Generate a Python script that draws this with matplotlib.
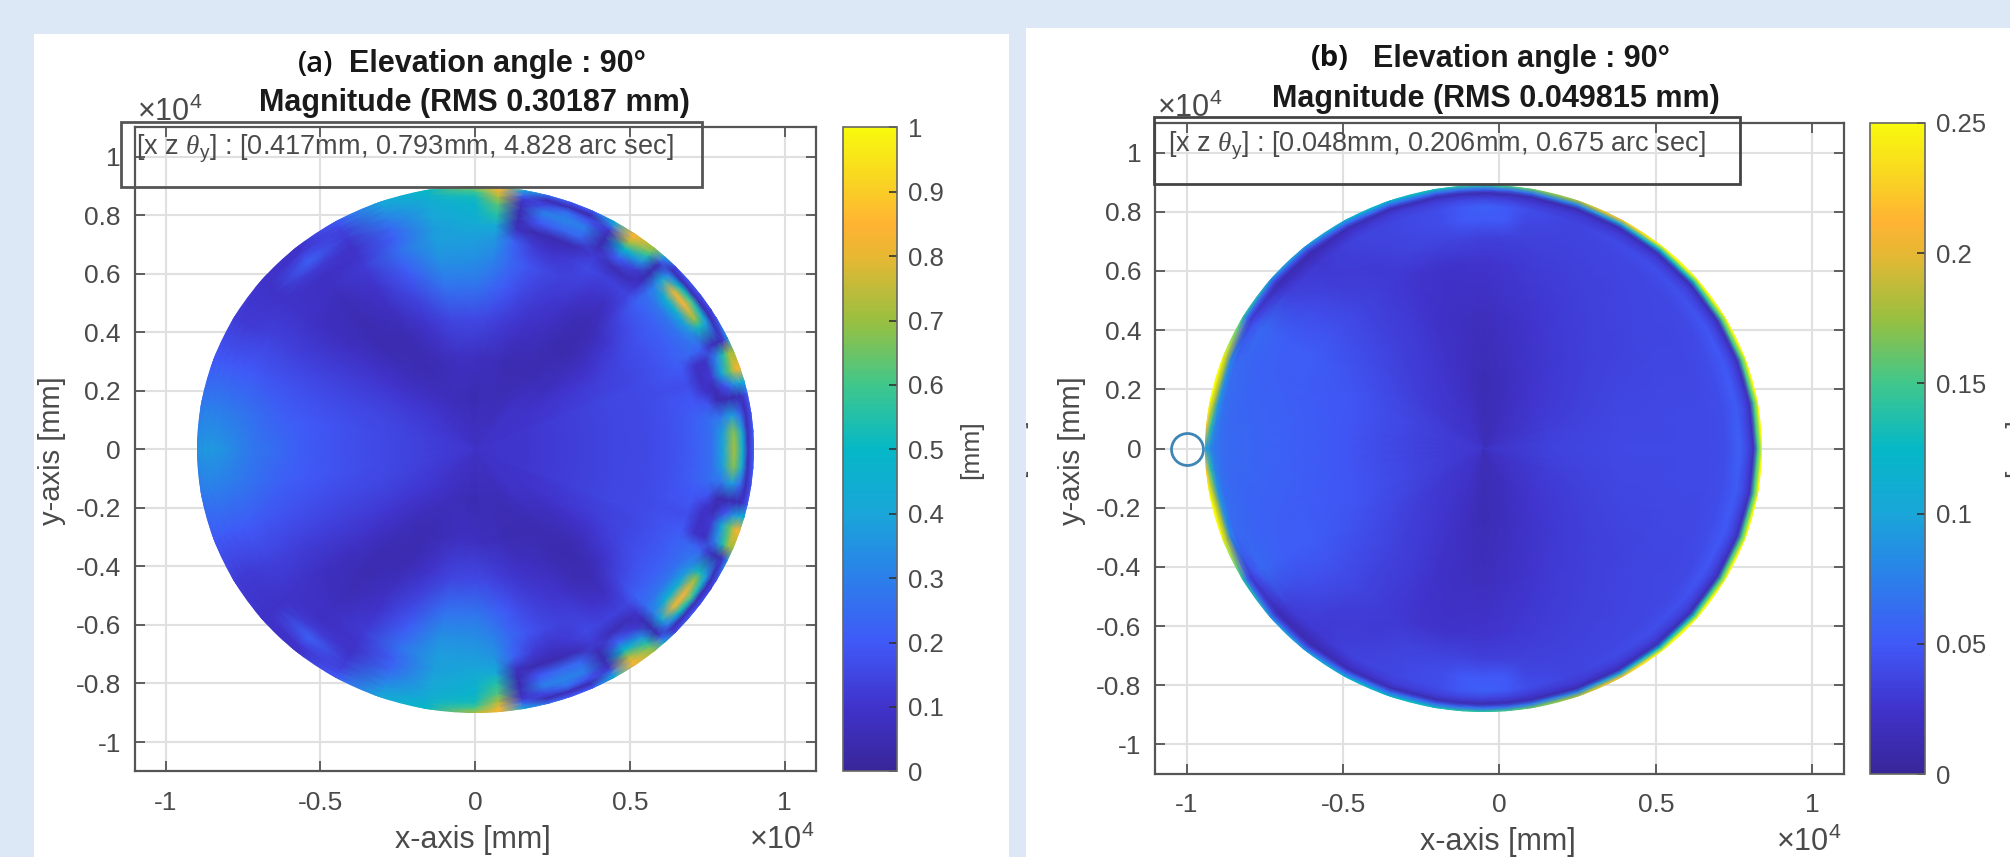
#复现两幅MATLAB面形云图 (a)(b)
import numpy as np
import matplotlib
matplotlib.use('Agg')
import matplotlib.pyplot as plt
from matplotlib.colors import LinearSegmentedColormap
from matplotlib.patches import Rectangle, Circle

plt.rcParams['font.family'] = ['Liberation Sans', 'DejaVu Sans']
plt.rcParams['mathtext.fontset'] = 'custom'
plt.rcParams['mathtext.rm'] = 'Liberation Sans'
plt.rcParams['mathtext.it'] = 'Liberation Serif:italic'
plt.rcParams['mathtext.default'] = 'rm'

W, H = 2010, 857
BG = '#dce8f5'
TXT = '#4a4a4a'
FRAME = '#555555'

# parula样的颜色,从参考图的色条上读的
cmap_pos = [0, .1, .2, .3, .4, .5, .6, .7, .8, .85, .9, 1]
cmap_rgb = [(.22, .15, .60), (.25, .20, .80), (.25, .35, .97), (.17, .50, .92),
            (.10, .65, .85), (.02, .72, .78), (.25, .78, .55), (.60, .75, .25),
            (.90, .72, .20), (1.0, .70, .20), (.98, .80, .15), (.97, .98, .05)]

xticks = [-1, -0.5, 0, 0.5, 1]
xticklabels = ['-1', '-0.5', '0', '0.5', '1']
yticks = [-1, -.8, -.6, -.4, -.2, 0, .2, .4, .6, .8, 1]
yticklabels = ['-1', '-0.8', '-0.6', '-0.4', '-0.2', '0', '0.2', '0.4', '0.6', '0.8', '1']

cb_ticks_a = [0, .1, .2, .3, .4, .5, .6, .7, .8, .9, 1]
cb_labels_a = ['0', '0.1', '0.2', '0.3', '0.4', '0.5', '0.6', '0.7', '0.8', '0.9', '1']
cb_ticks_b = [0, .05, .1, .15, .2, .25]
cb_labels_b = ['0', '0.05', '0.1', '0.15', '0.2', '0.25']

# (a) 每行一个角度(上半圆,下半圆镜像),每列一个半径比例
angles_a = [0, 4, 8, 12, 15, 18, 22, 25, 30, 32, 36, 40, 44, 47, 50, 55, 60, 65, 70, 75, 80, 85, 90,
            100, 110, 120, 130, 140, 150, 160, 170, 180]
radii_a = [0, .2, .35, .5, .62, .72, .8, .85, .89, .93, .96, .98, 1]
mag_a = [
    [.09, .11, .13, .15, .16, .18, .22, .26, .40, .72, .45, .08, .22],
    [.09, .11, .13, .15, .16, .18, .22, .26, .38, .68, .42, .07, .20],
    [.09, .11, .13, .15, .16, .18, .22, .25, .28, .38, .25, .06, .18],
    [.09, .11, .13, .15, .16, .18, .20, .18, .05, .05, .05, .08, .20],
    [.09, .11, .13, .15, .16, .18, .19, .10, .06, .18, .35, .40, .45],
    [.09, .11, .13, .15, .16, .17, .17, .08, .12, .42, .65, .80, .85],
    [.09, .11, .13, .15, .16, .18, .20, .09, .08, .30, .55, .70, .70],
    [.09, .10, .12, .14, .15, .18, .22, .24, .22, .08, .05, .10, .35],
    [.09, .10, .11, .13, .15, .18, .22, .26, .34, .52, .36, .06, .18],
    [.09, .10, .11, .12, .15, .18, .22, .27, .38, .70, .45, .06, .15],
    [.09, .10, .10, .10, .14, .18, .22, .28, .45, .85, .58, .07, .18],
    [.09, .09, .08, .08, .11, .17, .22, .28, .45, .82, .50, .06, .20],
    [.09, .09, .07, .06, .08, .15, .22, .25, .30, .42, .28, .07, .15],
    [.09, .09, .07, .05, .06, .11, .15, .10, .05, .05, .06, .25, .40],
    [.09, .09, .06, .04, .05, .08, .14, .06, .12, .35, .55, .65, .70],
    [.09, .08, .05, .05, .06, .10, .14, .06, .22, .50, .72, .82, .85],
    [.09, .07, .05, .07, .09, .13, .16, .12, .05, .05, .10, .30, .45],
    [.09, .06, .05, .08, .11, .14, .12, .06, .24, .30, .18, .05, .20],
    [.09, .06, .05, .09, .13, .16, .09, .05, .24, .32, .25, .06, .20],
    [.09, .06, .06, .11, .16, .19, .12, .05, .20, .30, .15, .05, .25],
    [.09, .06, .07, .13, .20, .24, .22, .07, .05, .06, .10, .25, .40],
    [.09, .06, .07, .15, .24, .31, .36, .42, .55, .62, .72, .80, .85],
    [.09, .05, .08, .16, .27, .34, .38, .42, .45, .48, .52, .60, .72],
    [.09, .06, .08, .15, .26, .34, .38, .38, .40, .42, .44, .47, .50],
    [.09, .07, .06, .10, .15, .21, .26, .22, .24, .30, .35, .38, .40],
    [.09, .08, .05, .05, .08, .10, .12, .10, .09, .12, .14, .17, .20],
    [.09, .09, .07, .05, .05, .06, .08, .08, .12, .22, .16, .10, .09],
    [.09, .11, .10, .09, .08, .08, .09, .09, .09, .09, .09, .09, .10],
    [.10, .12, .13, .13, .13, .13, .14, .14, .13, .12, .12, .12, .13],
    [.10, .13, .15, .16, .17, .18, .19, .20, .20, .20, .20, .20, .20],
    [.10, .14, .16, .18, .20, .22, .25, .27, .28, .29, .29, .29, .28],
    [.10, .14, .16, .18, .21, .25, .28, .31, .34, .36, .37, .36, .35],
]

# (b) 同样的表,幅值小很多,边缘一圈亮
angles_b = [0, 10, 20, 30, 40, 50, 60, 70, 80, 85, 90, 95, 100, 110, 120, 130, 140,
            150, 160, 170, 175, 180]
radii_b = [0, .25, .5, .7, .8, .87, .92, .95, .97, .985, 1]
mag_b = [
    [.022, .036, .040, .040, .040, .042, .055, .038, .018, .15, .25],
    [.022, .035, .039, .040, .040, .042, .052, .038, .018, .15, .25],
    [.020, .032, .038, .039, .039, .042, .050, .036, .018, .15, .25],
    [.018, .030, .036, .038, .038, .040, .048, .034, .016, .15, .25],
    [.018, .028, .034, .037, .038, .039, .044, .034, .015, .13, .25],
    [.017, .026, .032, .036, .037, .038, .042, .032, .015, .12, .25],
    [.016, .022, .030, .034, .036, .037, .040, .030, .014, .10, .22],
    [.015, .019, .026, .032, .035, .036, .036, .030, .012, .08, .18],
    [.015, .016, .022, .029, .034, .038, .042, .030, .012, .07, .16],
    [.015, .015, .020, .027, .034, .050, .050, .034, .012, .06, .15],
    [.016, .014, .018, .025, .034, .050, .055, .036, .012, .06, .14],
    [.016, .015, .019, .025, .036, .050, .050, .036, .013, .06, .14],
    [.018, .018, .020, .024, .036, .042, .042, .034, .014, .06, .13],
    [.020, .022, .024, .026, .036, .038, .038, .032, .014, .06, .12],
    [.022, .026, .031, .031, .030, .034, .036, .026, .014, .055, .11],
    [.022, .028, .035, .037, .032, .030, .028, .018, .012, .04, .09],
    [.022, .030, .040, .044, .042, .038, .034, .022, .014, .04, .09],
    [.024, .034, .044, .052, .052, .056, .060, .045, .030, .06, .14],
    [.025, .036, .048, .052, .054, .056, .060, .060, .080, .18, .25],
    [.025, .036, .048, .054, .056, .058, .060, .065, .090, .18, .25],
    [.025, .036, .048, .054, .057, .059, .060, .065, .080, .14, .22],
    [.025, .036, .048, .054, .057, .059, .060, .065, .070, .08, .10],
]

disc_a = (0.0, 0.0, 0.9)    # 圆心x, 圆心y, 半径 (x1e4 mm)
disc_b = (-0.05, 0.0, 0.89)
circle_x = [-1.0]
circle_y = [0.0]


def ax_px(fig, l, t, r, b):
    return fig.add_axes([l / W, 1 - b / H, (r - l) / W, (b - t) / H])


def fig_text(fig, x, y, s, **kw):
    kw.setdefault('ha', 'center')
    kw.setdefault('va', 'center')
    return fig.text(x / W, 1 - y / H, s, **kw)


def fig_rect(fig, l, t, r, b, **kw):
    rect = Rectangle((l / W, 1 - b / H), (r - l) / W, (b - t) / H,
                     transform=fig.transFigure, **kw)
    fig.add_artist(rect)
    return rect


def draw_disc(ax, angles, radii, table, disc, vmax):
    # 下半圆用上半圆镜像; 外面多一圈网格再用真圆裁剪,边缘才不是多边形
    ang = np.array(angles, dtype=float)
    tab = np.array(table)
    ang = np.r_[ang, 360 - ang[-2::-1]]
    tab = np.vstack([tab, tab[-2::-1]])
    tab = np.c_[tab, tab[:, -1]]
    rad = np.r_[radii, 1.03]
    t, r = np.meshgrid(np.deg2rad(ang), rad, indexing='ij')
    x = disc[0] + disc[2] * r * np.cos(t)
    y = disc[1] + disc[2] * r * np.sin(t)
    mesh = ax.pcolormesh(x, y, tab, shading='gouraud', cmap=parula,
                         vmin=0, vmax=vmax, zorder=2)
    mesh.set_clip_path(Circle(disc[:2], disc[2], transform=ax.transData))
    return mesh


def style_axes(ax):
    ax.set_xlim(-1.1, 1.1)
    ax.set_ylim(-1.1, 1.1)
    ax.set_axisbelow(True)
    ax.grid(True, color='#e0e0e0', linewidth=1.5)
    ax.set_xticks(xticks)
    ax.set_xticklabels(xticklabels)
    ax.set_yticks(yticks)
    ax.set_yticklabels(yticklabels)
    ax.tick_params(axis='x', direction='in', top=True, length=7, width=1.3,
                   color=FRAME, labelsize=19, labelcolor=TXT, pad=14)
    ax.tick_params(axis='y', direction='in', right=True, length=7, width=1.3,
                   color=FRAME, labelsize=19, labelcolor=TXT, pad=10)
    for s in ax.spines.values():
        s.set_color(FRAME)
        s.set_linewidth(1.6)


def style_cbar(cb, ticks, labels):
    cb.set_ticks(ticks)
    cb.set_ticklabels(labels)
    cb.ax.tick_params(direction='in', length=6, width=1.2, color='#333333',
                      labelsize=18.5, labelcolor=TXT, pad=8)
    cb.outline.set_edgecolor('#666666')
    cb.outline.set_linewidth(1.2)


parula = LinearSegmentedColormap.from_list('parula_like', list(zip(cmap_pos, cmap_rgb)), N=256)

fig = plt.figure(figsize=(W / 100, H / 100), dpi=100, facecolor=BG)

panel_l = fig_rect(fig, 33.5, 34, 1009, 857, facecolor='white', edgecolor='none', zorder=-2)
panel_r = fig_rect(fig, 1026, 28, 2010, 857, facecolor='white', edgecolor='none', zorder=-2)

# (a)
ax1 = ax_px(fig, 134.7, 127.4, 815.7, 771.3)
style_axes(ax1)
m1 = draw_disc(ax1, angles_a, radii_a, mag_a, disc_a, 1.0)
cax1 = ax_px(fig, 842.8, 127.4, 897, 771.3)
cb1 = fig.colorbar(m1, cax=cax1)
style_cbar(cb1, cb_ticks_a, cb_labels_a)

fig_text(fig, 316, 64, '(a)', fontsize=21, fontfamily='Open Sans', fontweight='semibold', color='#111111')
fig_text(fig, 497, 64, 'Elevation angle : 90°', fontsize=22, fontweight='bold', color='#1a1a1a')
fig_text(fig, 474.5, 103, 'Magnitude (RMS 0.30187 mm)', fontsize=22, fontweight='bold', color='#1a1a1a')
fig_text(fig, 137, 112, r'$\times$10$^{4}$', ha='left', fontsize=22, color=TXT)
fig_text(fig, 749, 840, r'$\times$10$^{4}$', ha='left', fontsize=22, color=TXT)
fig_text(fig, 473, 840, 'x-axis [mm]', fontsize=22, color=TXT)
fig_text(fig, 51.5, 451, 'y-axis [mm]', fontsize=21, color=TXT, rotation=90)
fig_text(fig, 971, 450, '[mm]', fontsize=19, color=TXT, rotation=90)
fig_rect(fig, 120.5, 122, 702, 187, facecolor='none', edgecolor='#555555', linewidth=2, zorder=5)
fig_text(fig, 136, 149, r'[x z $\mathit{\theta}_{y}$] : [0.417mm, 0.793mm, 4.828 arc sec]',
         ha='left', fontsize=19.5, color=TXT, zorder=6)

# (b)
ax2 = ax_px(fig, 1155.4, 123, 1843.5, 774)
style_axes(ax2)
m2 = draw_disc(ax2, angles_b, radii_b, mag_b, disc_b, 0.25)
ax2.plot(circle_x, circle_y, 'o', mfc='none', mec='#3f86b5', ms=23, mew=2, zorder=3, clip_on=False)
cax2 = ax_px(fig, 1869.7, 123, 1924.5, 774)
cb2 = fig.colorbar(m2, cax=cax2)
style_cbar(cb2, cb_ticks_b, cb_labels_b)

fig_text(fig, 1330, 59, '(b)', fontsize=21, fontfamily='Open Sans', fontweight='bold', color='#111111')
fig_text(fig, 1521.5, 59, 'Elevation angle : 90°', fontsize=22, fontweight='bold', color='#1a1a1a')
fig_text(fig, 1496, 99.5, 'Magnitude (RMS 0.049815 mm)', fontsize=22, fontweight='bold', color='#1a1a1a')
fig_text(fig, 1157, 108, r'$\times$10$^{4}$', ha='left', fontsize=22, color=TXT)
fig_text(fig, 1776, 842, r'$\times$10$^{4}$', ha='left', fontsize=22, color=TXT)
fig_text(fig, 1498, 842, 'x-axis [mm]', fontsize=22, color=TXT)
fig_text(fig, 1072, 451, 'y-axis [mm]', fontsize=21, color=TXT, rotation=90)
fig_text(fig, 2016, 448, '[mm]', fontsize=19, color=TXT, rotation=90)
fig_rect(fig, 1153.5, 117.5, 1740, 184, facecolor='none', edgecolor='#444444', linewidth=2, zorder=5)
fig_text(fig, 1167.6, 146, r'[x z $\mathit{\theta}_{y}$] : [0.048mm, 0.206mm, 0.675 arc sec]',
         ha='left', fontsize=19.5, color=TXT, zorder=6)

# 右图左边被裁掉的[mm]只剩一点括号尖
stub = fig_text(fig, 1015, 448, '[mm]', fontsize=19, color=TXT, rotation=90)
stub.set_clip_path(panel_r)

plt.savefig('out.png', dpi=100, facecolor=BG)
